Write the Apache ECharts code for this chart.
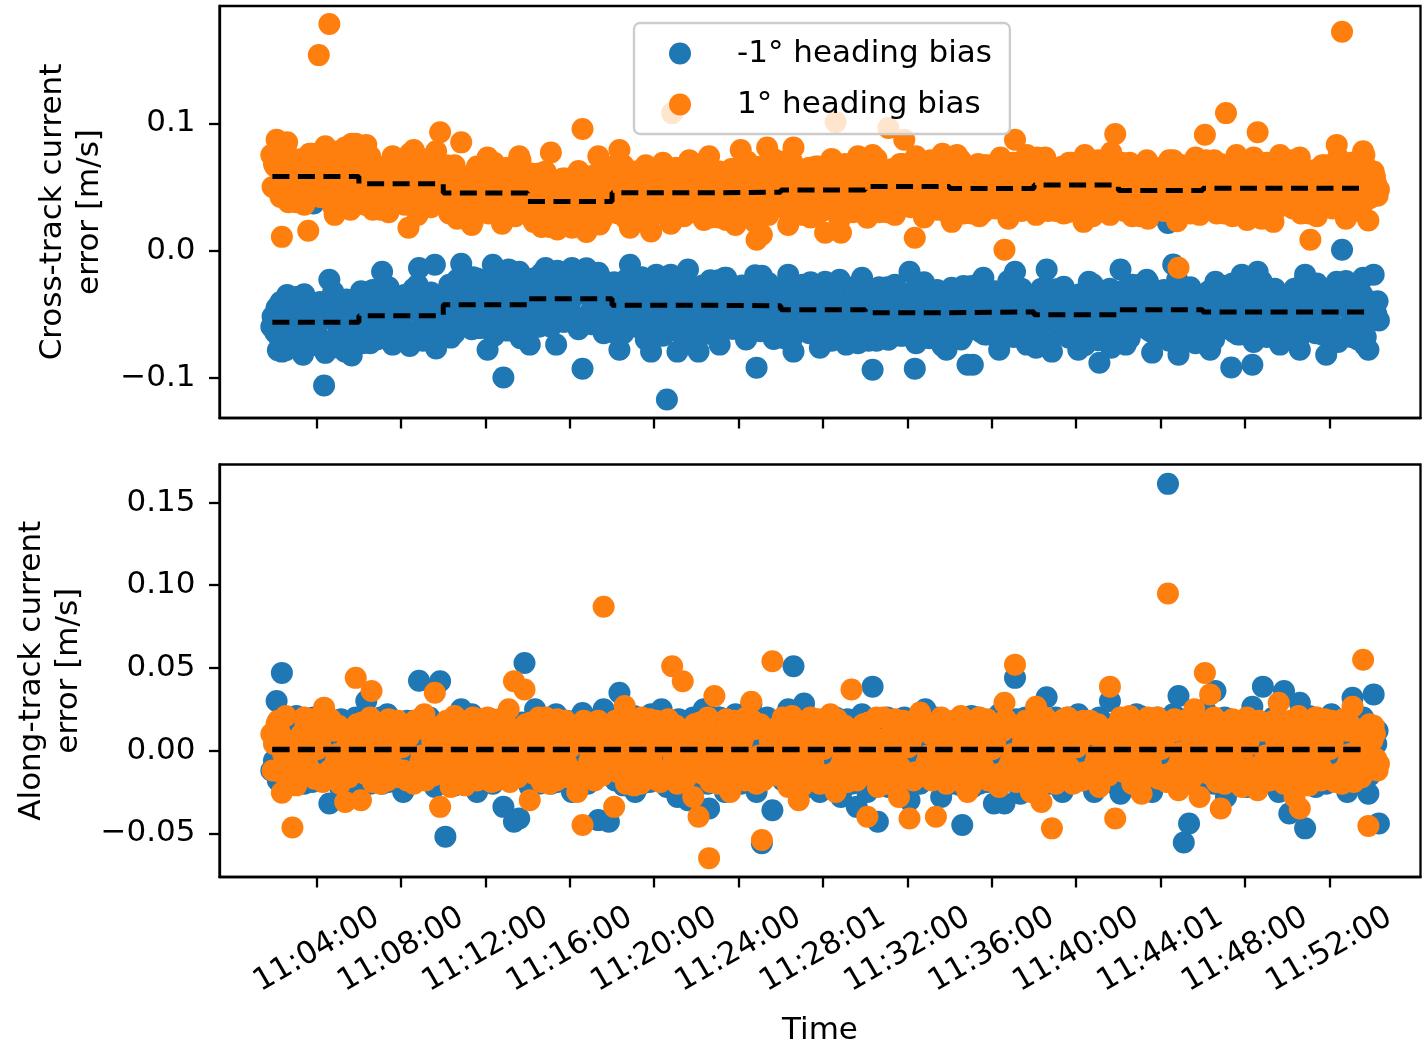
<!DOCTYPE html>
<html><head><meta charset="utf-8">
<script src="https://cdn.jsdelivr.net/npm/echarts@6/dist/echarts.min.js"></script>
<style>html,body{margin:0;padding:0;background:#fff}#c{width:1422px;height:1042px}</style>
</head><body><div id="c"></div><script>
// sample times A, minutes after 11:00:00
const times = [
1.85,
2.1,2.35,2.6,2.85, 3.1,3.35,3.6,3.85, 4.1,4.35,4.6,4.85, 5.1,5.35,5.6,5.85,
6.1,6.35,6.6,6.85, 7.1,7.35,7.6,7.85, 8.1,8.35,8.6,8.85, 9.1,9.35,9.6,9.85,
10.1,10.35,10.6,10.85, 11.1,11.35,11.6,11.85, 12.1,12.35,12.6,12.85, 13.1,13.35,13.6,13.85,
14.1,14.35,14.6,14.85, 15.1,15.35,15.6,15.85, 16.1,16.35,16.6,16.85, 17.1,17.35,17.6,17.85,
18.1,18.35,18.6,18.85, 19.1,19.35,19.6,19.85, 20.1,20.35,20.6,20.85, 21.1,21.35,21.6,21.85,
22.1,22.35,22.6,22.85, 23.1,23.35,23.6,23.85, 24.1,24.35,24.6,24.85, 25.1,25.35,25.6,25.85,
26.1,26.35,26.6,26.85, 27.1,27.35,27.6,27.85, 28.1,28.35,28.6,28.85, 29.1,29.35,29.6,29.85,
30.1,30.35,30.6,30.85, 31.1,31.35,31.6,31.85, 32.1,32.35,32.6,32.85, 33.1,33.35,33.6,33.85,
34.1,34.35,34.6,34.85, 35.1,35.35,35.6,35.85, 36.1,36.35,36.6,36.85, 37.1,37.35,37.6,37.85,
38.1,38.35,38.6,38.85, 39.1,39.35,39.6,39.85, 40.1,40.35,40.6,40.85, 41.1,41.35,41.6,41.85,
42.1,42.35,42.6,42.85, 43.1,43.35,43.6,43.85, 44.1,44.35,44.6,44.85, 45.1,45.35,45.6,45.85,
46.1,46.35,46.6,46.85, 47.1,47.35,47.6,47.85, 48.1,48.35,48.6,48.85, 49.1,49.35,49.6,49.85,
50.1,50.35,50.6,50.85, 51.1,51.35,51.6,51.85, 52.1,52.35,52.6,52.85, 53.1,53.35,53.6,53.85,
54.1,54.35
];
// sample times B
const timesB = [
1.975,
2.225,2.475,2.725,2.975, 3.225,3.475,3.725,3.975, 4.225,4.475,4.725,4.975, 5.225,5.475,5.725,5.975,
6.225,6.475,6.725,6.975, 7.225,7.475,7.725,7.975, 8.225,8.475,8.725,8.975, 9.225,9.475,9.725,9.975,
10.225,10.475,10.725,10.975, 11.225,11.475,11.725,11.975, 12.225,12.475,12.725,12.975, 13.225,13.475,13.725,13.975,
14.225,14.475,14.725,14.975, 15.225,15.475,15.725,15.975, 16.225,16.475,16.725,16.975, 17.225,17.475,17.725,17.975,
18.225,18.475,18.725,18.975, 19.225,19.475,19.725,19.975, 20.225,20.475,20.725,20.975, 21.225,21.475,21.725,21.975,
22.225,22.475,22.725,22.975, 23.225,23.475,23.725,23.975, 24.225,24.475,24.725,24.975, 25.225,25.475,25.725,25.975,
26.225,26.475,26.725,26.975, 27.225,27.475,27.725,27.975, 28.225,28.475,28.725,28.975, 29.225,29.475,29.725,29.975,
30.225,30.475,30.725,30.975, 31.225,31.475,31.725,31.975, 32.225,32.475,32.725,32.975, 33.225,33.475,33.725,33.975,
34.225,34.475,34.725,34.975, 35.225,35.475,35.725,35.975, 36.225,36.475,36.725,36.975, 37.225,37.475,37.725,37.975,
38.225,38.475,38.725,38.975, 39.225,39.475,39.725,39.975, 40.225,40.475,40.725,40.975, 41.225,41.475,41.725,41.975,
42.225,42.475,42.725,42.975, 43.225,43.475,43.725,43.975, 44.225,44.475,44.725,44.975, 45.225,45.475,45.725,45.975,
46.225,46.475,46.725,46.975, 47.225,47.475,47.725,47.975, 48.225,48.475,48.725,48.975, 49.225,49.475,49.725,49.975,
50.225,50.475,50.725,50.975, 51.225,51.475,51.725,51.975, 52.225,52.475,52.725,52.975, 53.225,53.475,53.725,53.975,
54.225
];
// sample times C
const timesC = [
1.91,
2.16,2.41,2.66,2.91, 3.16,3.41,3.66,3.91, 4.16,4.41,4.66,4.91, 5.16,5.41,5.66,5.91,
6.16,6.41,6.66,6.91, 7.16,7.41,7.66,7.91, 8.16,8.41,8.66,8.91, 9.16,9.41,9.66,9.91,
10.16,10.41,10.66,10.91, 11.16,11.41,11.66,11.91, 12.16,12.41,12.66,12.91, 13.16,13.41,13.66,13.91,
14.16,14.41,14.66,14.91, 15.16,15.41,15.66,15.91, 16.16,16.41,16.66,16.91, 17.16,17.41,17.66,17.91,
18.16,18.41,18.66,18.91, 19.16,19.41,19.66,19.91, 20.16,20.41,20.66,20.91, 21.16,21.41,21.66,21.91,
22.16,22.41,22.66,22.91, 23.16,23.41,23.66,23.91, 24.16,24.41,24.66,24.91, 25.16,25.41,25.66,25.91,
26.16,26.41,26.66,26.91, 27.16,27.41,27.66,27.91, 28.16,28.41,28.66,28.91, 29.16,29.41,29.66,29.91,
30.16,30.41,30.66,30.91, 31.16,31.41,31.66,31.91, 32.16,32.41,32.66,32.91, 33.16,33.41,33.66,33.91,
34.16,34.41,34.66,34.91, 35.16,35.41,35.66,35.91, 36.16,36.41,36.66,36.91, 37.16,37.41,37.66,37.91,
38.16,38.41,38.66,38.91, 39.16,39.41,39.66,39.91, 40.16,40.41,40.66,40.91, 41.16,41.41,41.66,41.91,
42.16,42.41,42.66,42.91, 43.16,43.41,43.66,43.91, 44.16,44.41,44.66,44.91, 45.16,45.41,45.66,45.91,
46.16,46.41,46.66,46.91, 47.16,47.41,47.66,47.91, 48.16,48.41,48.66,48.91, 49.16,49.41,49.66,49.91,
50.16,50.41,50.66,50.91, 51.16,51.41,51.66,51.91, 52.16,52.41,52.66,52.91, 53.16,53.41,53.66,53.91,
54.16
];
// sample times D
const timesD = [
2.035,2.285,2.535,2.785, 3.035,3.285,3.535,3.785, 4.035,4.285,4.535,4.785, 5.035,5.285,5.535,5.785,
6.035,6.285,6.535,6.785, 7.035,7.285,7.535,7.785, 8.035,8.285,8.535,8.785, 9.035,9.285,9.535,9.785,
10.035,10.285,10.535,10.785, 11.035,11.285,11.535,11.785, 12.035,12.285,12.535,12.785, 13.035,13.285,13.535,13.785,
14.035,14.285,14.535,14.785, 15.035,15.285,15.535,15.785, 16.035,16.285,16.535,16.785, 17.035,17.285,17.535,17.785,
18.035,18.285,18.535,18.785, 19.035,19.285,19.535,19.785, 20.035,20.285,20.535,20.785, 21.035,21.285,21.535,21.785,
22.035,22.285,22.535,22.785, 23.035,23.285,23.535,23.785, 24.035,24.285,24.535,24.785, 25.035,25.285,25.535,25.785,
26.035,26.285,26.535,26.785, 27.035,27.285,27.535,27.785, 28.035,28.285,28.535,28.785, 29.035,29.285,29.535,29.785,
30.035,30.285,30.535,30.785, 31.035,31.285,31.535,31.785, 32.035,32.285,32.535,32.785, 33.035,33.285,33.535,33.785,
34.035,34.285,34.535,34.785, 35.035,35.285,35.535,35.785, 36.035,36.285,36.535,36.785, 37.035,37.285,37.535,37.785,
38.035,38.285,38.535,38.785, 39.035,39.285,39.535,39.785, 40.035,40.285,40.535,40.785, 41.035,41.285,41.535,41.785,
42.035,42.285,42.535,42.785, 43.035,43.285,43.535,43.785, 44.035,44.285,44.535,44.785, 45.035,45.285,45.535,45.785,
46.035,46.285,46.535,46.785, 47.035,47.285,47.535,47.785, 48.035,48.285,48.535,48.785, 49.035,49.285,49.535,49.785,
50.035,50.285,50.535,50.785, 51.035,51.285,51.535,51.785, 52.035,52.285,52.535,52.785, 53.035,53.285,53.535,53.785,
54.035,54.285
];
// cross-track error, 1° heading bias
const crossPos = [
.075,
.087,.0107,.085,.062, .047,.068,.0155,.055, .1536,.07,.178,.028, .064,.081,.032,.084,
.05,.083,.042,.066, .035,.058,.074,.045, .062,.0178,.079,.05, .04,.065,.056,.093,
.038,.06,.03,.085, .052,.02,.066,.04, .073,.035,.055,.045, .028,.062,.074,.038,
.05,.03,.024,.062, .077,.035,.048,.03, .0178,.058,.0955,.04, .028,.074,.042,.032,
.055,.079,.035,.0178, .062,.04,.067,.015, .05,.032,.06,.108, .04,.055,.067,.03,
.05,.024,.074,.04, .062,.035,.055,.02, .079,.045,.03,.0084, .0123,.081,.05,.035,
.062,.02,.081,.045, .035,.065,.052,.03, .0139,.07,.101,.0139, .045,.06,.035,.072,
.0257,.075,.05,.04, .0963,.035,.062,.087, .045,.01,.058,.068, .071,.035,.05,.03,
.0225,.075,.045,.06, .038,.068,.03,.055, .065,.042,.0005,.06, .087,.04,.055,.035,
.028,.07,.05,.062, .04,.066,.03,.055, .067,.0225,.05,.062, .038,.06,.028,.0915,
.045,.065,.035,.055, .03,.071,.04,.058, .035,.063,.071,-.0136, .045,.06,.035,.028,
.091,.055,.04,.068, .108,.035,.075,.05, .024,.06,.093,.04, .065,.0225,.055,.07,
.035,.06,.073,.042, .0084,.058,.035,.066, .045,.083,.172,.03, .06,.04,.078,.0236,
.062,.048
];
const crossPosB = [
.068,
.074,.048,.062,.041, .052,.071,.043,.066, .077,.057,.046,.069, .045,.064,.075,.053,
.067,.043,.056,.035, .047,.063,.037,.06, .071,.05,.041,.062, .039,.057,.069,.049,
.06,.036,.049,.028, .04,.056,.03,.053, .064,.044,.034,.055, .032,.051,.062,.042,
.053,.029,.043,.021, .033,.05,.023,.047, .057,.037,.027,.048, .025,.045,.055,.035,
.06,.036,.049,.028, .04,.057,.03,.052, .064,.043,.034,.055, .032,.051,.062,.041,
.061,.037,.05,.029, .041,.058,.031,.054, .065,.044,.035,.056, .033,.052,.063,.042,
.063,.039,.052,.031, .043,.06,.033,.056, .067,.046,.037,.058, .035,.054,.065,.044,
.065,.041,.054,.033, .045,.062,.035,.058, .069,.048,.039,.06, .037,.056,.067,.046,
.064,.04,.053,.032, .044,.061,.034,.057, .068,.047,.038,.059, .036,.055,.066,.045,
.066,.042,.055,.034, .046,.063,.036,.059, .07,.049,.04,.061, .038,.057,.068,.047,
.062,.038,.051,.03, .042,.059,.032,.055, .066,.045,.036,.057, .034,.053,.064,.043,
.064,.04,.053,.032, .044,.061,.034,.057, .068,.047,.038,.059, .036,.055,.066,.045,
.064,.04,.053,.032, .044,.061,.034,.057, .068,.047,.038,.059, .036,.055,.066,.045,
.052
];
const crossPosC = [
.05,
.08,.054,.038,.064, .06,.036,.076,.046, .042,.082,.052,.072, .068,.04,.084,.05,
.074,.048,.032,.058, .054,.03,.07,.04, .036,.076,.046,.066, .062,.034,.078,.044,
.067,.041,.025,.051, .047,.023,.063,.033, .029,.069,.039,.059, .055,.027,.071,.037,
.0605,.0345,.0185,.0445, .0405,.0165,.0565,.0265, .0225,.0625,.0325,.0525, .0485,.0205,.0645,.0305,
.067,.041,.025,.051, .047,.023,.063,.033, .029,.069,.039,.059, .055,.027,.071,.037,
.068,.042,.026,.052, .048,.024,.064,.034, .03,.07,.04,.06, .056,.028,.072,.038,
.07,.044,.028,.054, .05,.026,.066,.036, .032,.072,.042,.062, .058,.03,.074,.04,
.072,.046,.03,.056, .052,.028,.068,.038, .034,.074,.044,.064, .06,.032,.076,.042,
.071,.045,.029,.055, .051,.027,.067,.037, .033,.073,.043,.063, .059,.031,.075,.041,
.073,.047,.031,.057, .053,.029,.069,.039, .035,.075,.045,.065, .061,.033,.077,.043,
.069,.043,.027,.053, .049,.025,.065,.035, .031,.071,.041,.061, .057,.029,.073,.039,
.071,.045,.029,.055, .051,.027,.067,.037, .033,.073,.043,.063, .059,.031,.075,.041,
.071,.045,.029,.055, .051,.027,.067,.037, .033,.073,.043,.063, .059,.031,.075,.041,
.058
];
const crossPosD = [
.066,.042,.08,.052, .038,.072,.054,.076, .06,.048,.074,.034, .078,.056,.044,.068,
.06,.036,.074,.046, .032,.066,.048,.07, .054,.042,.068,.028, .072,.05,.038,.062,
.053,.029,.067,.039, .025,.059,.041,.063, .047,.035,.061,.021, .065,.043,.031,.055,
.0465,.0225,.0605,.0325, .0185,.0525,.0345,.0565, .0405,.0285,.0545,.0145, .0585,.0365,.0245,.0485,
.053,.029,.067,.039, .025,.059,.041,.063, .047,.035,.061,.021, .065,.043,.031,.055,
.054,.03,.068,.04, .026,.06,.042,.064, .048,.036,.062,.022, .066,.044,.032,.056,
.056,.032,.07,.042, .028,.062,.044,.066, .05,.038,.064,.024, .068,.046,.034,.058,
.058,.034,.072,.044, .03,.064,.046,.068, .052,.04,.066,.026, .07,.048,.036,.06,
.057,.033,.071,.043, .029,.063,.045,.067, .051,.039,.065,.025, .069,.047,.035,.059,
.059,.035,.073,.045, .031,.065,.047,.069, .053,.041,.067,.027, .071,.049,.037,.061,
.055,.031,.069,.041, .027,.061,.043,.065, .049,.037,.063,.023, .067,.045,.033,.057,
.057,.033,.071,.043, .029,.063,.045,.067, .051,.039,.065,.025, .069,.047,.035,.059,
.057,.033,.071,.043, .029,.063,.045,.067, .051,.039,.065,.025, .069,.047,.035,.059,
.055,.043
];
// cross-track error, -1° heading bias
const crossNeg = [
-.06,
-.045,-.0795,-.035,-.065, -.05,-.082,-.042,.037, -.07,-.1062,-.023,-.055, -.04,-.0795,-.048,-.065,
-.032,-.06,-.045,-.07, -.0167,-.055,-.074,-.038, -.06,-.0701,-.03,-.0137, -.05,-.065,-.0112,-.042,
-.055,-.0685,-.028,-.0104, -.048,-.062,-.022,-.04, -.078,-.0112,-.05,-.0999, -.015,-.045,-.0167,-.06,
-.074,-.035,-.05,-.0137, -.06,-.074,-.025,-.045, -.0137,-.055,-.093,-.03, -.045,-.0175,-.065,-.04,
-.025,-.078,-.05,-.0112, -.06,-.035,-.07,-.0795, -.019,-.05,-.1172,.023, -.0795,-.04,-.015,-.06,
-.0795,-.03,-.05,-.065, -.074,-.0214,-.045,-.06, -.035,-.07,-.05,-.0921, -.0198,-.055,-.04,-.068,
-.03,-.019,-.0795,-.05, -.04,-.065,-.03,-.0764, -.0246,-.055,-.045,-.07, -.074,-.035,-.06,-.0214,
-.05,-.0937,-.04,-.065, -.0701,-.03,-.055,-.045, -.0167,-.0929,-.05,-.065, -.035,-.06,-.045,-.078,
-.0293,-.055,-.068,-.0898, -.0898,-.04,-.0214,-.06, -.05,-.078,-.035,-.065, -.0167,-.055,-.07,-.04,
-.0764,-.03,-.015,-.0795, -.05,-.065,-.035,-.055, -.078,-.04,-.0246,-.06, -.0883,-.045,-.03,-.065,
-.015,-.074,-.05,-.035, -.06,-.023,-.0803,-.045, -.055,.0217,-.011,-.082, -.03,-.06,-.04,-.068,
-.05,-.078,-.0246,-.055, -.035,-.092,-.045,-.019, -.065,-.0898,-.0167,-.05, -.06,-.035,-.07,-.045,
-.055,-.03,-.078,-.019, -.05,-.065,-.04,-.082, -.035,-.0246,.0005,-.06, -.045,-.07,-.0214,-.078,
-.019,-.055
];
const crossNegB = [
-.06,
-.0685,-.0425,-.0585,-.0385, -.0485,-.0725,-.0445,-.0625, -.0745,-.0525,-.0405,-.0665, -.0425,-.0645,-.0765,-.0505,
-.063,-.037,-.053,-.033, -.043,-.067,-.039,-.057, -.069,-.047,-.035,-.061, -.037,-.059,-.071,-.045,
-.055,-.029,-.045,-.025, -.035,-.059,-.031,-.049, -.061,-.039,-.027,-.053, -.029,-.051,-.063,-.037,
-.05,-.024,-.04,-.02, -.03,-.054,-.026,-.044, -.056,-.034,-.022,-.048, -.024,-.046,-.058,-.032,
-.055,-.029,-.045,-.025, -.035,-.059,-.031,-.049, -.061,-.039,-.027,-.053, -.029,-.051,-.063,-.037,
-.0555,-.0295,-.0455,-.0255, -.0355,-.0595,-.0315,-.0495, -.0615,-.0395,-.0275,-.0535, -.0295,-.0515,-.0635,-.0375,
-.059,-.033,-.049,-.029, -.039,-.063,-.035,-.053, -.065,-.043,-.031,-.057, -.033,-.055,-.067,-.041,
-.061,-.035,-.051,-.031, -.041,-.065,-.037,-.055, -.067,-.045,-.033,-.059, -.035,-.057,-.069,-.043,
-.06,-.034,-.05,-.03, -.04,-.064,-.036,-.054, -.066,-.044,-.032,-.058, -.034,-.056,-.068,-.042,
-.0625,-.0365,-.0525,-.0325, -.0425,-.0665,-.0385,-.0565, -.0685,-.0465,-.0345,-.0605, -.0365,-.0585,-.0705,-.0445,
-.059,-.033,-.049,-.029, -.039,-.063,-.035,-.053, -.065,-.043,-.031,-.057, -.033,-.055,-.067,-.041,
-.06,-.034,-.05,-.03, -.04,-.064,-.036,-.054, -.066,-.044,-.032,-.058, -.034,-.056,-.068,-.042,
-.06,-.034,-.05,-.03, -.04,-.064,-.036,-.054, -.066,-.044,-.032,-.058, -.034,-.056,-.068,-.042,
-.05
];
const crossNegC = [
-.052,
-.0785,-.0525,-.0365,-.0625, -.0585,-.0345,-.0745,-.0445, -.0405,-.0805,-.0505,-.0705, -.0665,-.0385,-.0825,-.0485,
-.073,-.047,-.031,-.057, -.053,-.029,-.069,-.039, -.035,-.075,-.045,-.065, -.061,-.033,-.077,-.043,
-.065,-.039,-.023,-.049, -.045,-.021,-.061,-.031, -.027,-.067,-.037,-.057, -.053,-.025,-.069,-.035,
-.06,-.034,-.018,-.044, -.04,-.016,-.056,-.026, -.022,-.062,-.032,-.052, -.048,-.02,-.064,-.03,
-.065,-.039,-.023,-.049, -.045,-.021,-.061,-.031, -.027,-.067,-.037,-.057, -.053,-.025,-.069,-.035,
-.0655,-.0395,-.0235,-.0495, -.0455,-.0215,-.0615,-.0315, -.0275,-.0675,-.0375,-.0575, -.0535,-.0255,-.0695,-.0355,
-.069,-.043,-.027,-.053, -.049,-.025,-.065,-.035, -.031,-.071,-.041,-.061, -.057,-.029,-.073,-.039,
-.071,-.045,-.029,-.055, -.051,-.027,-.067,-.037, -.033,-.073,-.043,-.063, -.059,-.031,-.075,-.041,
-.07,-.044,-.028,-.054, -.05,-.026,-.066,-.036, -.032,-.072,-.042,-.062, -.058,-.03,-.074,-.04,
-.0725,-.0465,-.0305,-.0565, -.0525,-.0285,-.0685,-.0385, -.0345,-.0745,-.0445,-.0645, -.0605,-.0325,-.0765,-.0425,
-.069,-.043,-.027,-.053, -.049,-.025,-.065,-.035, -.031,-.071,-.041,-.061, -.057,-.029,-.073,-.039,
-.07,-.044,-.028,-.054, -.05,-.026,-.066,-.036, -.032,-.072,-.042,-.062, -.058,-.03,-.074,-.04,
-.07,-.044,-.028,-.054, -.05,-.026,-.066,-.036, -.032,-.072,-.042,-.062, -.058,-.03,-.074,-.04,
-.045
];
const crossNegD = [
-.0645,-.0405,-.0785,-.0505, -.0365,-.0705,-.0525,-.0745, -.0585,-.0465,-.0725,-.0325, -.0765,-.0545,-.0425,-.0665,
-.059,-.035,-.073,-.045, -.031,-.065,-.047,-.069, -.053,-.041,-.067,-.027, -.071,-.049,-.037,-.061,
-.051,-.027,-.065,-.037, -.023,-.057,-.039,-.061, -.045,-.033,-.059,-.019, -.063,-.041,-.029,-.053,
-.046,-.022,-.06,-.032, -.018,-.052,-.034,-.056, -.04,-.028,-.054,-.014, -.058,-.036,-.024,-.048,
-.051,-.027,-.065,-.037, -.023,-.057,-.039,-.061, -.045,-.033,-.059,-.019, -.063,-.041,-.029,-.053,
-.0515,-.0275,-.0655,-.0375, -.0235,-.0575,-.0395,-.0615, -.0455,-.0335,-.0595,-.0195, -.0635,-.0415,-.0295,-.0535,
-.055,-.031,-.069,-.041, -.027,-.061,-.043,-.065, -.049,-.037,-.063,-.023, -.067,-.045,-.033,-.057,
-.057,-.033,-.071,-.043, -.029,-.063,-.045,-.067, -.051,-.039,-.065,-.025, -.069,-.047,-.035,-.059,
-.056,-.032,-.07,-.042, -.028,-.062,-.044,-.066, -.05,-.038,-.064,-.024, -.068,-.046,-.034,-.058,
-.0585,-.0345,-.0725,-.0445, -.0305,-.0645,-.0465,-.0685, -.0525,-.0405,-.0665,-.0265, -.0705,-.0485,-.0365,-.0605,
-.055,-.031,-.069,-.041, -.027,-.061,-.043,-.065, -.049,-.037,-.063,-.023, -.067,-.045,-.033,-.057,
-.056,-.032,-.07,-.042, -.028,-.062,-.044,-.066, -.05,-.038,-.064,-.024, -.068,-.046,-.034,-.058,
-.056,-.032,-.07,-.042, -.028,-.062,-.044,-.066, -.05,-.038,-.064,-.024, -.068,-.046,-.034,-.058,
-.052,-.04
];
// along-track error, 1° heading bias
const alongPos = [
.01,
.0163,-.0254,.005,-.0465, -.01,.008,.018,-.015, .003,.026,-.012,.012, -.02,-.031,.006,.044,
-.03,.015,.036,-.008, .01,-.018,.004,.018, -.012,.008,-.02,.014, .022,-.015,.035,-.034,
.012,-.022,.005,.018, -.01,.015,-.018,.006, .02,-.008,.01,-.015, .025,.042,.004,.037,
-.03,.012,-.012,.02, .003,-.018,.015,-.008, .01,-.025,-.045,.008, -.015,.018,.087,-.01,
-.034,.005,.027,-.012, .015,-.02,.008,-.005, .018,-.015,.005,.051, -.02,.042,.01,-.028,
-.04,.015,-.065,.033, -.018,.008,-.025,.015, -.005,.02,.0296,-.02, -.054,.012,.054,-.015,
.02,-.022,.006,-.03, .012,-.012,.018,-.02, .005,.022,-.025,.01, -.012,.037,-.018,.015,
-.04,.008,-.022,.02, -.01,.012,-.028,.004, -.041,.018,.023,-.015, .01,-.04,.02,-.02,
.015,-.01,.008,-.025, .018,-.012,.005,-.018, .012,-.022,.029,-.008, .052,-.015,.018,-.025,
.0265,-.031,.008,-.047, .015,-.012,.02,-.02, .005,.018,-.015,.01, -.022,.012,.0387,-.041,
.02,-.01,.015,-.018, -.026,.01,-.012,.02, -.015,.095,.012,-.024, .018,-.02,.025,-.028,
.047,.034,-.012,-.035, .015,-.018,.01,-.022, .02,-.01,-.024,.012, -.015,.018,.029,-.02,
.008,-.028,-.035,.015, -.012,.02,-.018,.005, .018,-.015,-.02,.012, .0265,-.01,.055,-.0455,
.015,-.008
];
const alongPosB = [
.004,
.012,-.008,.003,-.015, -.004,.016,-.012,.007, .009,-.017,.014,-.002, -.011,.005,-.006,.013,
.01,-.009,.002,-.014, -.005,.015,-.011,.008, .008,-.016,.013,-.003, -.012,.006,-.005,.014,
.013,-.007,.004,-.016, -.003,.017,-.013,.006, .01,-.018,.012,-.001, -.01,.004,-.007,.012,
.011,-.009,.002,-.014, -.005,.015,-.011,.008, .008,-.016,.015,-.003, -.012,.006,-.005,.014,
.012,-.008,.003,-.015, -.004,.016,-.012,.007, .009,-.017,.014,-.002, -.011,.005,-.006,.013,
.01,-.009,.002,-.014, -.005,.015,-.011,.008, .008,-.016,.013,-.003, -.012,.006,-.005,.014,
.013,-.007,.004,-.016, -.003,.017,-.013,.006, .01,-.018,.012,-.001, -.01,.004,-.007,.012,
.011,-.009,.002,-.014, -.005,.015,-.011,.008, .008,-.016,.015,-.003, -.012,.006,-.005,.014,
.012,-.008,.003,-.015, -.004,.016,-.012,.007, .009,-.017,.014,-.002, -.011,.005,-.006,.013,
.01,-.009,.002,-.014, -.005,.015,-.011,.008, .008,-.016,.013,-.003, -.012,.006,-.005,.014,
.013,-.007,.004,-.016, -.003,.017,-.013,.006, .01,-.018,.012,-.001, -.01,.004,-.007,.012,
.011,-.009,.002,-.014, -.005,.015,-.011,.008, .008,-.016,.015,-.003, -.012,.006,-.005,.014,
.012,-.008,.003,-.015, -.004,.016,-.012,.007, .009,-.017,.014,-.002, -.011,.005,-.006,.013,
-.005
];
const alongPosC = [
-.012,
.018,-.002,-.02,.006, -.01,.02,.001,-.017, .004,-.014,.019,-.006, -.019,.011,-.004,.016,
.017,-.003,-.019,.007, -.009,.019,.002,-.016, .005,-.013,.018,-.007, -.018,.012,-.003,.015,
.018,-.002,-.02,.006, -.01,.02,.001,-.017, .004,-.014,.019,-.006, -.019,.011,-.004,.016,
.017,-.003,-.019,.007, -.009,.019,.002,-.016, .005,-.013,.018,-.007, -.018,.012,-.003,.015,
.018,-.002,-.02,.006, -.01,.02,.001,-.017, .004,-.014,.019,-.006, -.019,.011,-.004,.016,
.017,-.003,-.019,.007, -.009,.019,.002,-.016, .005,-.013,.018,-.007, -.018,.012,-.003,.015,
.018,-.002,-.02,.006, -.01,.02,.001,-.017, .004,-.014,.019,-.006, -.019,.011,-.004,.016,
.017,-.003,-.019,.007, -.009,.019,.002,-.016, .005,-.013,.018,-.007, -.018,.012,-.003,.015,
.018,-.002,-.02,.006, -.01,.02,.001,-.017, .004,-.014,.019,-.006, -.019,.011,-.004,.016,
.017,-.003,-.019,.007, -.009,.019,.002,-.016, .005,-.013,.018,-.007, -.018,.012,-.003,.015,
.018,-.002,-.02,.006, -.01,.02,.001,-.017, .004,-.014,.019,-.006, -.019,.011,-.004,.016,
.017,-.003,-.019,.007, -.009,.019,.002,-.016, .005,-.013,.018,-.007, -.018,.012,-.003,.015,
.018,-.002,-.02,.006, -.01,.02,.001,-.017, .004,-.014,.019,-.006, -.019,.011,-.004,.016,
.01
];
const alongPosD = [
.007,-.013,.021,-.004, -.021,.01,-.007,.019, .001,-.019,.012,-.01, .015,-.001,-.016,.004,
.006,-.014,.02,-.005, -.02,.011,-.008,.018, .002,-.018,.013,-.011, .016,-.002,-.015,.005,
.007,-.013,.021,-.004, -.021,.01,-.007,.019, .001,-.019,.012,-.01, .015,-.001,-.016,.004,
.006,-.014,.02,-.005, -.02,.011,-.008,.018, .002,-.018,.013,-.011, .016,-.002,-.015,.005,
.007,-.013,.021,-.004, -.021,.01,-.007,.019, .001,-.019,.012,-.01, .015,-.001,-.016,.004,
.006,-.014,.02,-.005, -.02,.011,-.008,.018, .002,-.018,.013,-.011, .016,-.002,-.015,.005,
.007,-.013,.021,-.004, -.021,.01,-.007,.019, .001,-.019,.012,-.01, .015,-.001,-.016,.004,
.006,-.014,.02,-.005, -.02,.011,-.008,.018, .002,-.018,.013,-.011, .016,-.002,-.015,.005,
.007,-.013,.021,-.004, -.021,.01,-.007,.019, .001,-.019,.012,-.01, .015,-.001,-.016,.004,
.006,-.014,.02,-.005, -.02,.011,-.008,.018, .002,-.018,.013,-.011, .016,-.002,-.015,.005,
.007,-.013,.021,-.004, -.021,.01,-.007,.019, .001,-.019,.012,-.01, .015,-.001,-.016,.004,
.006,-.014,.02,-.005, -.02,.011,-.008,.018, .002,-.018,.013,-.011, .016,-.002,-.015,.005,
.007,-.013,.021,-.004, -.021,.01,-.007,.019, .001,-.019,.012,-.01, .015,-.001,-.016,.004,
.006,-.012
];
// along-track error, -1° heading bias
const alongNeg = [
-.012,
.03,.047,-.008,.012, -.02,.015,-.012,.02, -.015,.008,-.032,.018, -.022,.012,-.025,.02,
.005,.03,-.018,.01, -.02,.022,-.01,.015, -.025,.005,.018,.0423, -.015,.02,-.022,.042,
-.052,.01,-.018,.025, -.012,.022,-.025,.015, -.015,-.02,.012,-.034, .02,-.043,-.041,.053,
-.022,.025,-.015,.01, -.02,.022,-.01,.018, -.025,.015,.0227,-.02, .012,-.042,.025,-.043,
.01,.035,-.015,.02, -.025,.015,-.018,.022, -.01,.025,-.022,.012, -.028,.018,-.03,.02,
-.02,.025,-.035,.015, .02,-.025,-.015,.022, -.02,.015,.028,-.025, -.056,.02,-.036,.015,
-.018,.025,.051,-.02, .0285,-.022,.012,-.025, .018,-.015,.02,-.028, .015,-.02,-.034,.022,
-.025,.0387,-.043,.01, -.022,.018,-.015,.02, -.03,.015,-.02,.025, -.015,.02,-.028,.012,
-.02,.018,-.045,.015, -.022,.02,-.018,.012, -.032,.022,-.032,.015, .044,-.026,.02,-.015,
.018,-.022,.0323,-.02, .015,-.025,.02,-.012, .022,-.018,.015,-.025, .02,-.015,.03,-.02,
-.026,.018,-.015,.022, -.02,.015,-.025,.02, -.018,.1613,.022,.033, -.0555,-.044,.018,-.02,
.025,-.015,.036,.0193, -.028,.015,-.02,.012, -.022,.0265,-.018,.0387, -.015,.02,-.025,.036,
-.038,.015,.029,-.047, .018,-.022,.012,-.02, .022,-.015,.018,-.025, .032,-.018,.02,-.026,
.034,-.044
];
const alongNegB = [
-.006,
-.01,.013,-.004,.008, .015,-.006,.01,-.013, -.016,.002,.012,-.007, .006,-.012,.017,-.003,
-.009,.014,-.005,.009, .016,-.005,.011,-.012, -.015,.003,.013,-.008, .007,-.013,.016,-.002,
-.01,.013,-.004,.008, .015,-.006,.01,-.013, -.016,.002,.012,-.007, .006,-.012,.017,-.003,
-.009,.014,-.005,.009, .016,-.005,.011,-.012, -.015,.003,.013,-.008, .007,-.013,.016,-.002,
-.01,.013,-.004,.008, .015,-.006,.01,-.013, -.016,.002,.012,-.007, .006,-.012,.017,-.003,
-.009,.014,-.005,.009, .016,-.005,.011,-.012, -.015,.003,.013,-.008, .007,-.013,.016,-.002,
-.01,.013,-.004,.008, .015,-.006,.01,-.013, -.016,.002,.012,-.007, .006,-.012,.017,-.003,
-.009,.014,-.005,.009, .016,-.005,.011,-.012, -.015,.003,.013,-.008, .007,-.013,.016,-.002,
-.01,.013,-.004,.008, .015,-.006,.01,-.013, -.016,.002,.012,-.007, .006,-.012,.017,-.003,
-.009,.014,-.005,.009, .016,-.005,.011,-.012, -.015,.003,.013,-.008, .007,-.013,.016,-.002,
-.01,.013,-.004,.008, .015,-.006,.01,-.013, -.016,.002,.012,-.007, .006,-.012,.017,-.003,
-.009,.014,-.005,.009, .016,-.005,.011,-.012, -.015,.003,.013,-.008, .007,-.013,.016,-.002,
-.01,.013,-.004,.008, .015,-.006,.01,-.013, -.016,.002,.012,-.007, .006,-.012,.017,-.003,
.004
];
const alongNegC = [
.01,
-.018,.006,.02,-.004, .011,-.02,-.002,.017, -.006,.015,-.017,.004, .019,-.01,.008,-.015,
-.017,.007,.019,-.005, .012,-.019,-.003,.016, -.007,.014,-.018,.005, .018,-.011,.009,-.014,
-.018,.006,.02,-.004, .011,-.02,-.002,.017, -.006,.015,-.017,.004, .019,-.01,.008,-.015,
-.017,.007,.019,-.005, .012,-.019,-.003,.016, -.007,.014,-.018,.005, .018,-.011,.009,-.014,
-.018,.006,.02,-.004, .011,-.02,-.002,.017, -.006,.015,-.017,.004, .019,-.01,.008,-.015,
-.017,.007,.019,-.005, .012,-.019,-.003,.016, -.007,.014,-.018,.005, .018,-.011,.009,-.014,
-.018,.006,.02,-.004, .011,-.02,-.002,.017, -.006,.015,-.017,.004, .019,-.01,.008,-.015,
-.017,.007,.019,-.005, .012,-.019,-.003,.016, -.007,.014,-.018,.005, .018,-.011,.009,-.014,
-.018,.006,.02,-.004, .011,-.02,-.002,.017, -.006,.015,-.017,.004, .019,-.01,.008,-.015,
-.017,.007,.019,-.005, .012,-.019,-.003,.016, -.007,.014,-.018,.005, .018,-.011,.009,-.014,
-.018,.006,.02,-.004, .011,-.02,-.002,.017, -.006,.015,-.017,.004, .019,-.01,.008,-.015,
-.017,.007,.019,-.005, .012,-.019,-.003,.016, -.007,.014,-.018,.005, .018,-.011,.009,-.014,
-.018,.006,.02,-.004, .011,-.02,-.002,.017, -.006,.015,-.017,.004, .019,-.01,.008,-.015,
-.01
];
const alongNegD = [
-.007,.012,-.021,.003, .021,-.009,.006,-.019, -.001,.019,-.012,.01, -.015,.002,.016,-.004,
-.006,.013,-.02,.004, .02,-.01,.007,-.018, -.002,.018,-.013,.011, -.016,.003,.015,-.005,
-.007,.012,-.021,.003, .021,-.009,.006,-.019, -.001,.019,-.012,.01, -.015,.002,.016,-.004,
-.006,.013,-.02,.004, .02,-.01,.007,-.018, -.002,.018,-.013,.011, -.016,.003,.015,-.005,
-.007,.012,-.021,.003, .021,-.009,.006,-.019, -.001,.019,-.012,.01, -.015,.002,.016,-.004,
-.006,.013,-.02,.004, .02,-.01,.007,-.018, -.002,.018,-.013,.011, -.016,.003,.015,-.005,
-.007,.012,-.021,.003, .021,-.009,.006,-.019, -.001,.019,-.012,.01, -.015,.002,.016,-.004,
-.006,.013,-.02,.004, .02,-.01,.007,-.018, -.002,.018,-.013,.011, -.016,.003,.015,-.005,
-.007,.012,-.021,.003, .021,-.009,.006,-.019, -.001,.019,-.012,.01, -.015,.002,.016,-.004,
-.006,.013,-.02,.004, .02,-.01,.007,-.018, -.002,.018,-.013,.011, -.016,.003,.015,-.005,
-.007,.012,-.021,.003, .021,-.009,.006,-.019, -.001,.019,-.012,.01, -.015,.002,.016,-.004,
-.006,.013,-.02,.004, .02,-.01,.007,-.018, -.002,.018,-.013,.011, -.016,.003,.015,-.005,
-.007,.012,-.021,.003, .021,-.009,.006,-.019, -.001,.019,-.012,.01, -.015,.002,.016,-.004,
-.006,.012
];
// running means (dashed step lines), minutes after 11:00
const meanTimes = [1.9,6,10,14,18,22,26,30,34,38,42,46,50,53.8];
const crossPosMean = [.0581,.0524,.0451,.0385,.0453,.0458,.0476,.0503,.0487,.0514,.0472,.049,.049,.049];
const crossNegMean = [-.0565,-.0513,-.0426,-.0379,-.043,-.0435,-.0466,-.049,-.0482,-.0505,-.0466,-.0484,-.0484,-.0484];
const alongPosMean = [.0008,.0008,.0008,.0008,.0008,.0008,.0008,.0008,.0008,.0008,.0008,.0008,.0008,.0008];
const alongNegMean = [.0006,.0006,.0006,.0006,.0006,.0006,.0006,.0006,.0006,.0006,.0006,.0006,.0006,.0006];

const tickMinutes = [4,8,12,16,20,24,28,32,36,40,44,48,52];
const tickLabels = ['11:04:00','11:08:00','11:12:00','11:16:00','11:20:00','11:24:00','11:28:01','11:32:00','11:36:00','11:40:00','11:44:01','11:48:00','11:52:00'];
const crossTicks = [-0.1, 0, 0.1];
const crossTickLabels = ['\u22120.1','0.0','0.1'];
const alongTicks = [-0.05, 0, 0.05, 0.1, 0.15];
const alongTickLabels = ['\u22120.05','0.00','0.05','0.10','0.15'];

const NEG = '-1° heading bias', POS = '1° heading bias';
const BLUE = '#1f77b4', ORANGE = '#ff7f0e';
const F = 'DejaVu Sans';
const FS = 31;

const zip = (xs, ys) => xs.map((x, i) => [x, ys[i]]);

function xAxis(g, labels) {
  return {
    type: 'value', gridIndex: g, min: -0.607, max: 56.32,
    splitLine: {show: false},
    axisLine: {show: true, onZero: false, lineStyle: {color: '#000', width: 2.3}},
    axisTick: {show: true, inside: false, length: 10.5, customValues: tickMinutes, lineStyle: {color: '#000', width: 2.3}},
    axisLabel: {show: labels, customValues: tickMinutes, formatter: v => tickLabels[tickMinutes.indexOf(v)],
      rotate: 30, align: 'center', verticalAlign: 'middle', margin: 73,
      fontSize: FS, fontFamily: F, color: '#000'},
    name: labels ? 'Time' : '', nameLocation: 'middle', nameGap: 138,
    nameTextStyle: {fontSize: FS, fontFamily: F, color: '#000'}
  };
}
function yAxis(g, min, max, ticks, labels, name, gap) {
  return {
    type: 'value', gridIndex: g, min: min, max: max,
    splitLine: {show: false},
    axisLine: {show: true, onZero: false, lineStyle: {color: '#000', width: 2.3}},
    axisTick: {show: true, inside: false, length: 10.5, customValues: ticks, lineStyle: {color: '#000', width: 2.3}},
    axisLabel: {customValues: ticks, formatter: v => labels[ticks.indexOf(v)], margin: 24,
      fontSize: FS, fontFamily: F, color: '#000'},
    name: name, nameLocation: 'middle', nameGap: gap, nameRotate: 90,
    nameTextStyle: {fontSize: FS, fontFamily: F, color: '#000', lineHeight: 37, align: 'center'}
  };
}
function scatter(name, g, xs, ys, color) {
  return {name: name, type: 'scatter', xAxisIndex: g, yAxisIndex: g, data: zip(xs, ys),
    symbol: 'circle', symbolSize: 22, itemStyle: {color: color, opacity: 1},
    emphasis: {disabled: true}, silent: true, z: 2};
}
function meanLine(g, ys) {
  return {name: 'mean', type: 'line', xAxisIndex: g, yAxisIndex: g, data: zip(meanTimes, ys),
    step: 'end', symbol: 'none', showSymbol: false, silent: true,
    lineStyle: {color: '#000', width: 5, type: [17, 8.5]}, z: 5};
}

const chart = echarts.init(document.getElementById('c'), null, {renderer: 'canvas'});
chart.setOption({
  animation: false,
  backgroundColor: '#fff',
  grid: [
    {left: 219.5, top: 6, width: 1201, height: 412, show: true, borderColor: '#000', borderWidth: 2.3, backgroundColor: 'transparent', outerBoundsMode: 'none', containLabel: false},
    {left: 219.5, top: 464.5, width: 1201, height: 412.5, show: true, borderColor: '#000', borderWidth: 2.3, backgroundColor: 'transparent', outerBoundsMode: 'none', containLabel: false}
  ],
  xAxis: [xAxis(0, false), xAxis(1, true)],
  yAxis: [
    yAxis(0, -0.1317, 0.1922, crossTicks, crossTickLabels, 'Cross-track current\nerror [m/s]', 111.5),
    yAxis(1, -0.0764, 0.1730, alongTicks, alongTickLabels, 'Along-track current\nerror [m/s]', 132)
  ],
  legend: {
    data: [NEG, POS], orient: 'vertical', left: 634, top: 23,
    padding: [15, 18, 14, 35], itemWidth: 22, itemHeight: 22, itemGap: 20, icon: 'circle',
    backgroundColor: 'rgba(255,255,255,0.8)', borderColor: '#cccccc', borderWidth: 2.3, borderRadius: 6,
    selectedMode: false,
    textStyle: {fontSize: FS, fontFamily: F, color: '#000', lineHeight: 31, padding: [0, 0, 0, 41]}
  },
  series: [
    scatter(NEG, 0, times, crossNeg, BLUE),
    scatter(NEG, 0, timesB, crossNegB, BLUE),
    scatter(NEG, 0, timesC, crossNegC, BLUE),
    scatter(NEG, 0, timesD, crossNegD, BLUE),
    scatter(POS, 0, times, crossPos, ORANGE),
    scatter(POS, 0, timesB, crossPosB, ORANGE),
    scatter(POS, 0, timesC, crossPosC, ORANGE),
    scatter(POS, 0, timesD, crossPosD, ORANGE),
    meanLine(0, crossNegMean),
    meanLine(0, crossPosMean),
    scatter(NEG, 1, times, alongNeg, BLUE),
    scatter(NEG, 1, timesB, alongNegB, BLUE),
    scatter(NEG, 1, timesC, alongNegC, BLUE),
    scatter(NEG, 1, timesD, alongNegD, BLUE),
    scatter(POS, 1, times, alongPos, ORANGE),
    scatter(POS, 1, timesB, alongPosB, ORANGE),
    scatter(POS, 1, timesC, alongPosC, ORANGE),
    scatter(POS, 1, timesD, alongPosD, ORANGE),
    meanLine(1, alongNegMean),
    meanLine(1, alongPosMean)
  ]
});
</script></body></html>
